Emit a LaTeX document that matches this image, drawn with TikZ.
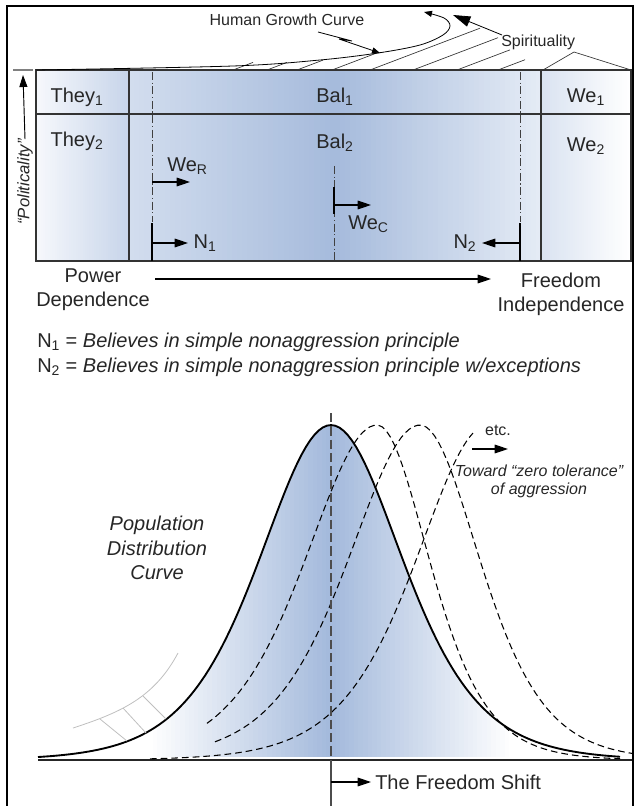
\documentclass[tikz,border=0pt]{standalone}
\usepackage{fontspec}
\setmainfont{Liberation Sans}
\usetikzlibrary{arrows.meta}
\definecolor{theyL}{RGB}{246,248,252}
\definecolor{theyR}{RGB}{200,213,234}
\definecolor{balL}{RGB}{210,221,238}
\definecolor{balC}{RGB}{166,187,220}
\definecolor{balR}{RGB}{228,235,245}
\definecolor{weL}{RGB}{218,227,241}
\definecolor{shadeblue}{RGB}{164,186,220}
% horizontal colour ramp made of thin strips
\def\hgrad(#1,#2,#3,#4)(#5:#6){\foreach \k in {0,...,39}{%
	\pgfmathsetmacro\xa{#1+(#3-#1)*\k/40}%
	\pgfmathsetmacro\xb{#1+(#3-#1)*(\k+1)/40+0.6}%
	\pgfmathsetmacro\pc{100*\k/39}%
	\fill[#6!\pc!#5] (\xa,#2) rectangle (\xb,#4);}}
\tikzset{
  declare function={bell(\x,\ctr,\wl,\wr)=760-335/(cosh((\x-\ctr)/((\x<\ctr)?\wl:\wr)))^2;},
  boxline/.style={draw=black!80, line width=0.8pt},
  dashdot/.style={black!75, line width=0.75pt, dash pattern=on 6pt off 2pt on 0.8pt off 2pt},
  tick/.style={black, line width=1.6pt},
  tri/.style={-{Triangle[length=10pt,width=6.5pt]}, line width=0.8pt},
  lbl/.style={inner sep=0pt, text=black!85, font=\fontsize{15}{18}\selectfont},
  small/.style={inner sep=0pt, text=black!85, font=\fontsize{12}{13.5}\selectfont},
  nlbl/.style={inner sep=0pt, text=black!85, font=\fontsize{15}{17}\selectfont},
  hatch/.style={black!80, line width=0.5pt},
  bellcurve/.style={line width=1.4pt},
  shifted/.style={line width=0.8pt, dash pattern=on 5pt off 3pt}
}

\begin{document}
\begin{tikzpicture}[x=0.75pt,y=-0.75pt]
	%%%%% FRAME %%%%%
	\useasboundingbox (0,0) rectangle (636,806);
	\draw[line width=1.5pt] (7,806) -- (7,6) -- (633,6) -- (633,806);
	
	%%%%% POLITICALITY BOX %%%%%
	\hgrad(36,70,129,261)(theyL:theyR)
	\hgrad(129,70,335,261)(balL:balC)
	\hgrad(335,70,541,261)(balC:balR)
	\hgrad(541,70,631,261)(weL:white)
	\draw[boxline] (36,70) rectangle (631,261);
	\draw[boxline] (36,114) -- (631,114);
	\draw[boxline] (129,70) -- (129,261);
	\draw[boxline] (541,70) -- (541,261);
	
	\node[lbl] (they1) at (77,97) {They\textsubscript{1}};
	\node[lbl] (they2) at (77,141) {They\textsubscript{2}};
	\node[lbl] (bal1) at (335,97) {Bal\textsubscript{1}};
	\node[lbl] (bal2) at (335,143) {Bal\textsubscript{2}};
	\node[lbl] (we1) at (586,97) {We\textsubscript{1}};
	\node[lbl] (we2) at (586,146) {We\textsubscript{2}};
	
	\draw[dashdot] (152,72) -- (152,222);
	\draw[dashdot] (520,72) -- (520,222);
	\draw[dashdot] (334,166) -- (334,261);
	\draw[tick] (152,223) -- (152,261);
	\draw[tick] (520,223) -- (520,261);
	\draw[tick] (334,187) -- (334,214);
	
	\node[lbl, anchor=west] (wer) at (167,166) {We\textsubscript{R}};
	\coordinate (werfoot) at (152,182);
	\coordinate (wertip) at (190,182);
	\draw[tri] (werfoot) -- (wertip);
	
	\node[lbl, anchor=west] (wec) at (348,224) {We\textsubscript{C}};
	\coordinate (wecfoot) at (334,205);
	\coordinate (wectip) at (371,205);
	\draw[tri] (wecfoot) -- (wectip);
	
	\node[lbl, anchor=west, inner xsep=4pt] (n1) at (188,243) {N\textsubscript{1}};
	\coordinate (n1foot) at (152,243);
	\draw[tri] (n1foot) -- (n1.west);
	\node[lbl, anchor=east, inner xsep=4pt] (n2) at (482,243) {N\textsubscript{2}};
	\coordinate (n2foot) at (520,243);
	\draw[tri] (n2foot) -- (n2.east);
	
	%%%%% POLITICALITY AXIS %%%%%
	\draw[black!50, line width=0.8pt] (13,70) -- (33,70);
	\node[small, rotate=90, font=\fontsize{12.5}{14}\selectfont\itshape] (polit) at (25,182) {“Politicality”};
	\coordinate (politip) at (23,75);
	\draw[-{Triangle[length=9pt,width=6pt]}, line width=0.7pt] (polit.east) -- (politip);
	
	%%%%% GROWTH AND SPIRITUALITY %%%%%
	\foreach \a/\b in {233/253, 267/287, 297/323, 332/377, 370/480, 413/498, 457/510, 498/525}
		\draw[hatch] (\a,70) -- (\b,{70-0.38*(\b-\a)});
	\draw[hatch] (543,70) -- (574,52) -- (631,70);
	
	\draw[line width=0.6pt, -{Triangle[length=6pt,width=4.5pt]}] plot[smooth, tension=0.55]
		coordinates {(36,70) (233,66) (320,60) (378,53) (420,45) (443,35) (450,26) (444,18) (424,12)};
	
	\node[small] (growth) at (287,20) {Human Growth Curve};
	\draw[line width=0.6pt, -{Triangle[length=6pt,width=4.5pt]}] (318,32) -- (352,41) -- (339,39) -- (380,53);
	
	\node[small, anchor=west] (spirit) at (501,42) {Spirituality};
	\coordinate (spirtip) at (453,15);
	\draw[line width=0.6pt, -{Triangle[length=13pt,width=8pt]}] (502,35) -- (spirtip);
	
	%%%%% POWER TO FREEDOM %%%%%
	\node[lbl, align=center] (power) at (93,290) {Power\\Dependence};
	\node[lbl, align=center] (freedom) at (561,294) {Freedom\\Independence};
	\coordinate (axfoot) at (155,279);
	\coordinate (axtip) at (491,279);
	\draw[tri] (axfoot) -- (axtip);
	
	\node[nlbl, anchor=west] (n1def) at (37,342) {N\textsubscript{1} = \textit{Believes in simple nonaggression principle}};
	\node[nlbl, anchor=west] (n2def) at (37,367) {N\textsubscript{2} = \textit{Believes in simple nonaggression principle w/exceptions}};
	
	%%%%% DISTRIBUTION %%%%%
	\begin{scope}
		\clip plot[domain=38:620, samples=120] (\x,{bell(\x,331,96,96)}) -- cycle;
		\hgrad(148,400,331,770)(white:shadeblue)
		\hgrad(331,400,514,770)(shadeblue:white)
	\end{scope}
	
	\draw[black!85, line width=0.8pt] (38,760) -- (632,760);
	\draw[shifted] plot[domain=207:620, samples=100] (\x,{bell(\x,377,96,70)});
	\draw[shifted] plot[domain=215:633, samples=100] (\x,{bell(\x,420,96,80)});
	\draw[shifted] plot[domain=150:473, samples=100] (\x,{bell(\x,488,96,96)});
	\draw[bellcurve] plot[domain=38:620, samples=140] (\x,{bell(\x,331,96,96)});
	
	\draw[black!70, line width=1.1pt, dash pattern=on 7pt off 3pt] (331,413) -- (331,760);
	\draw[black!70, line width=1.1pt] (331,760) -- (331,806);
	
	\draw[black!25, line width=0.6pt] (73,728) to[out=18,in=-118] (178,653);
	\draw[black!25, line width=0.6pt] (100,719) -- (127,741);
	\draw[black!25, line width=0.6pt] (123,708) -- (146,733);
	\draw[black!25, line width=0.6pt] (143,696) -- (166,719);
	
	\node[lbl, align=center, font=\fontsize{15}{18.4}\selectfont\itshape] (popcurve) at (157,548) {Population\\Distribution\\Curve};
	
	\node[small] (etc) at (498,430) {etc.};
	\coordinate (etcfoot) at (472,449);
	\coordinate (etctip) at (508,449);
	\draw[tri] (etcfoot) -- (etctip);
	\node[small, align=center, font=\fontsize{12}{13.5}\selectfont\itshape] (toward) at (539,481) {Toward “zero tolerance”\\of aggression};
	
	\coordinate (shiftfoot) at (331,782);
	\node[lbl, anchor=west, inner xsep=3pt] (shift) at (371,782) {The Freedom Shift};
	\draw[tri] (shiftfoot) -- (shift.west);
\end{tikzpicture}
\end{document}
